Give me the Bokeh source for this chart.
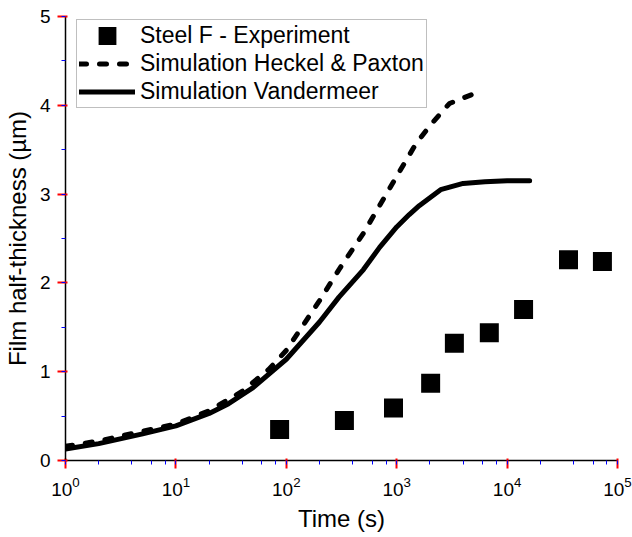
from bokeh.plotting import figure
from bokeh.embed import file_html
from bokeh.resources import INLINE
from bokeh.models import (Legend, LegendItem, SingleIntervalTicker, LogTicker,
                          LogTickFormatter)

# ---- data ----
exp_time = [87, 336, 935, 2030, 3330, 6900, 14100, 36000, 73000]
exp_thick = [0.35, 0.45, 0.59, 0.87, 1.32, 1.44, 1.70, 2.26, 2.24]

hp_time = [1, 2, 5, 10, 20, 40, 70, 100, 200, 300, 500, 700, 1000, 1500, 2000, 3000, 5000]
hp_thick = [0.16, 0.22, 0.33, 0.41, 0.56, 0.78, 1.03, 1.24, 1.80, 2.15, 2.56, 2.87, 3.20, 3.57, 3.77, 4.02, 4.13]

vm_time = [1, 2, 5, 10, 20, 30, 50, 100, 200, 300, 500, 700, 1000, 1300, 1600, 2500, 4000, 6300, 10000, 16000]
vm_thick = [0.13, 0.19, 0.30, 0.39, 0.53, 0.64, 0.82, 1.14, 1.56, 1.84, 2.15, 2.40, 2.63, 2.77, 2.87, 3.05, 3.12, 3.14, 3.15, 3.15]

labels = ["Steel F - Experiment", "Simulation Heckel & Paxton", "Simulation Vandermeer"]
x_title = "Time (s)"
y_title = "Film half-thickness (\u00b5m)"

FONT = "Liberation Sans"

p = figure(width=632, height=537, x_axis_type="log", x_range=(1, 1e5), y_range=(0, 5),
           output_backend="svg", toolbar_location=None,
           min_border_left=65, min_border_right=15, min_border_top=16, min_border_bottom=77)
p.outline_line_color = None
p.xgrid.visible = False
p.ygrid.visible = False

r_exp = p.scatter(exp_time, exp_thick, marker="square", size=12, fill_color="black",
                  line_color="black", line_width=7, line_join="miter")
r_hp = p.line(hp_time, hp_thick, line_width=5, line_color="black", line_dash="7 13", line_cap="round")
r_vm = p.line(vm_time, vm_thick, line_width=5, line_color="black", line_cap="round", line_join="round")

p.xaxis.ticker = LogTicker()
p.xaxis.formatter = LogTickFormatter()
p.yaxis.ticker = SingleIntervalTicker(interval=1, num_minor_ticks=2)

p.axis.axis_line_width = 1.5
p.axis.major_tick_line_color = "red"
p.axis.major_tick_line_width = 2
p.axis.minor_tick_line_color = "blue"
p.axis.minor_tick_line_width = 1
p.axis.major_tick_out = 8
p.axis.minor_tick_out = 4
p.axis.major_label_text_font = FONT
p.axis.major_label_text_font_size = "19px"
p.axis.major_label_text_color = "black"
p.axis.axis_label_text_font = FONT
p.axis.axis_label_text_font_size = "24px"
p.axis.axis_label_text_font_style = "normal"
p.axis.axis_label_text_color = "black"

p.xaxis.axis_label = x_title
p.yaxis.axis_label = y_title
p.xaxis.major_label_standoff = 8
p.xaxis.axis_label_standoff = 6
p.yaxis.major_label_standoff = 7
p.yaxis.axis_label_standoff = 6

legend = Legend(items=[
    LegendItem(label=labels[0], renderers=[r_exp]),
    LegendItem(label=labels[1], renderers=[r_hp]),
    LegendItem(label=labels[2], renderers=[r_vm]),
])
legend.location = (11, 352)
legend.label_text_font = FONT
legend.label_text_font_size = "23px"
legend.label_text_color = "black"
legend.glyph_width = 56
legend.glyph_height = 27
legend.label_height = 27
legend.label_standoff = 5
legend.padding = 2
legend.spacing = 1
legend.margin = 0
legend.border_line_color = "#808080"
legend.border_line_width = 1
legend.background_fill_color = "white"
legend.background_fill_alpha = 1
p.add_layout(legend)

open("out.html", "w").write(file_html(p, INLINE))
